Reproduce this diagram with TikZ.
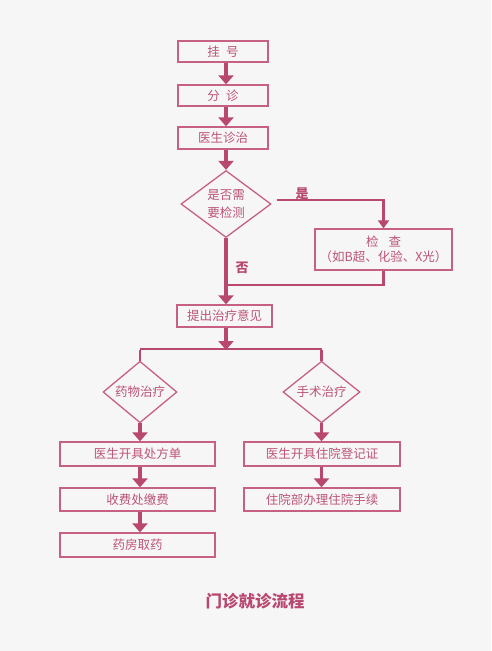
\documentclass[tikz,border=0pt]{standalone}
\usepackage{fontspec}
\setmainfont{Noto Sans CJK SC}
\usetikzlibrary{arrows.meta,shapes.geometric}
\definecolor{boxc}{RGB}{198,96,132}
\definecolor{arrc}{RGB}{184,72,112}
\definecolor{txtc}{RGB}{188,84,120}
\definecolor{bgc}{RGB}{246,246,246}
\tikzset{
  stepbox/.style={draw=boxc, line width=1.3pt, rectangle, inner sep=0pt, text=txtc, font=\fontsize{12.5}{15}\selectfont},
  dec/.style={draw=boxc, line width=1.3pt, diamond, inner sep=0pt, text=txtc, font=\fontsize{12.5}{18}\selectfont, align=center},
  bigarr/.style={draw=arrc, line width=3.6pt, -{Triangle[length=9pt,width=15pt]}},
  midarr/.style={draw=arrc, line width=2.4pt, -{Triangle[length=8pt,width=11pt]}},
  plainln/.style={draw=arrc, line width=2.4pt},
  lbl/.style={text=arrc, font=\fontsize{13}{15}\selectfont\bfseries},
}
\begin{document}
\begin{tikzpicture}[x=1pt,y=-1pt]
\fill[bgc] (0,0) rectangle (491,651);
\useasboundingbox (0,0) rectangle (491,651);

\node[stepbox, minimum width=90pt, minimum height=21pt] (gh) at (223,51.5) {挂\hspace{0.5em}号};
\node[stepbox, minimum width=90pt, minimum height=21pt] (fz) at (223,95.5) {分\hspace{0.5em}诊};
\node[stepbox, minimum width=90pt, minimum height=22pt] (zz) at (223,138) {医生诊治};
\node[dec, minimum width=90pt, minimum height=67pt] (d1) at (226,204) {是否需\\要检测};
\node[stepbox, minimum width=137pt, minimum height=41pt, align=center] (jc) at (383.5,249.5) {检\hspace{0.8em}查\\（如B超、化验、X光）};
\node[stepbox, minimum width=95pt, minimum height=22pt] (tz) at (224.5,316) {提出治疗意见};
\node[dec, minimum width=74pt, minimum height=56pt] (yw) at (140,392) {药物治疗};
\node[dec, minimum width=77pt, minimum height=56pt] (ss) at (321.5,392) {手术治疗};
\node[stepbox, minimum width=155pt, minimum height=24pt] (cf) at (137.5,454) {医生开具处方单};
\node[stepbox, minimum width=155pt, minimum height=23pt] (jf) at (137.5,499.5) {收费处缴费};
\node[stepbox, minimum width=155pt, minimum height=24pt] (qy) at (137.5,545) {药房取药};
\node[stepbox, minimum width=156pt, minimum height=24pt] (dj) at (322,454) {医生开具住院登记证};
\node[stepbox, minimum width=156pt, minimum height=23pt] (zy) at (322,499.5) {住院部办理住院手续};

\node[lbl] (yes) at (302,194) {是};
\node[lbl] (no) at (242,268) {否};
\node[text=arrc, font=\fontsize{16.5}{19}\selectfont\bfseries] (title) at (255,601) {门诊就诊流程};

\coordinate (m) at (226,285);
\coordinate (split) at (226,349);
\coordinate (sl) at (140,349);
\coordinate (sr) at (321.5,349);

\draw[bigarr] (gh.south -| 226,0) -- (fz.north -| 226,0);
\draw[bigarr] (fz.south -| 226,0) -- (zz.north -| 226,0);
\draw[bigarr] (zz.south -| 226,0) -- (d1.north);
\draw[midarr] ([xshift=5pt,yshift=4pt]d1.east) -| (jc.north);
\draw[plainln] (jc.south) |- (m);
\draw[bigarr] (d1.south) -- (tz.north -| 226,0);
\draw[bigarr] (tz.south -| 226,0) -- ([yshift=-1pt]split);
\draw[plainln] (sl) -- (sr);
\draw[plainln] ([yshift=-1pt]sl) -- (yw.north);
\draw[plainln] ([yshift=-1pt]sr) -- (ss.north);
\draw[bigarr] (yw.south) -- (cf.north -| yw.south);
\draw[bigarr] (cf.south -| yw.south) -- (jf.north -| yw.south);
\draw[bigarr] (jf.south -| yw.south) -- (qy.north -| yw.south);
\draw[bigarr] (ss.south) -- (dj.north -| ss.south);
\draw[bigarr] (dj.south -| ss.south) -- (zy.north -| ss.south);
\end{tikzpicture}
\end{document}
